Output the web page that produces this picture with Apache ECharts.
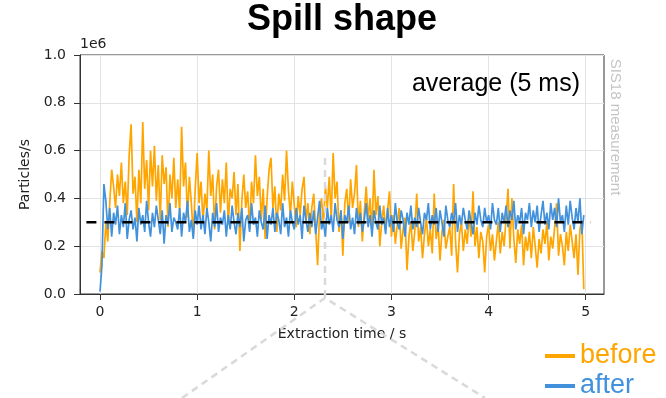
<!DOCTYPE html>
<html><head><meta charset="utf-8">
<script src="https://cdn.jsdelivr.net/npm/echarts@6/dist/echarts.min.js"></script>
<style>html,body{margin:0;padding:0;background:#fff}#c{width:666px;height:398px}</style>
</head><body><div id="c"></div>
<script>
// sampling step of the plotted spill (s); values in units of 1e6 particles/s
const sampleStep = 0.02;
const before = [
0.09,0.18,0.15,0.30,0.22,0.38,0.52,0.45,0.36,0.50,
0.41,0.55,0.38,0.47,0.33,0.58,0.71,0.42,0.49,0.30,
0.52,0.38,0.72,0.44,0.56,0.35,0.60,0.45,0.62,0.39,
0.54,0.31,0.58,0.46,0.53,0.28,0.50,0.40,0.57,0.36,
0.48,0.34,0.70,0.45,0.55,0.32,0.49,0.38,0.24,0.44,
0.59,0.38,0.47,0.30,0.42,0.35,0.60,0.41,0.50,0.27,
0.45,0.52,0.34,0.48,0.38,0.55,0.29,0.44,0.40,0.51,
0.33,0.46,0.18,0.39,0.50,0.36,0.43,0.27,0.47,0.38,
0.58,0.41,0.49,0.31,0.44,0.23,0.40,0.52,0.57,0.36,
0.45,0.26,0.42,0.35,0.50,0.39,0.60,0.43,0.33,0.47,
0.37,0.28,0.41,0.33,0.44,0.49,0.30,0.38,0.25,0.36,
0.42,0.27,0.12,0.34,0.40,0.29,0.45,0.36,0.49,0.31,
0.59,0.40,0.47,0.26,0.35,0.16,0.38,0.44,0.30,0.48,
0.36,0.42,0.54,0.28,0.39,0.22,0.34,0.45,0.31,0.40,
0.26,0.52,0.33,0.41,0.20,0.30,0.37,0.27,0.35,0.43,
0.24,0.33,0.21,0.29,0.36,0.19,0.27,0.32,0.10,0.24,
0.30,0.18,0.26,0.42,0.22,0.28,0.15,0.25,0.32,0.20,
0.27,0.17,0.42,0.23,0.29,0.14,0.26,0.31,0.19,0.24,
0.28,0.16,0.46,0.22,0.09,0.25,0.30,0.18,0.27,0.21,
0.33,0.24,0.43,0.20,0.28,0.15,0.26,0.22,0.09,0.24,
0.29,0.18,0.25,0.14,0.22,0.30,0.17,0.26,0.20,0.32,
0.44,0.19,0.40,0.23,0.13,0.27,0.21,0.29,0.12,0.24,
0.18,0.26,0.15,0.28,0.20,0.11,0.23,0.17,0.27,0.21,
0.30,0.14,0.24,0.19,0.28,0.38,0.16,0.25,0.20,0.12,
0.26,0.18,0.29,0.22,0.15,0.25,0.08,0.27,0.31,0.02
];
const after = [
0.01,0.12,0.46,0.39,0.27,0.36,0.24,0.34,0.29,0.37,
0.25,0.33,0.28,0.38,0.23,0.31,0.35,0.27,0.32,0.22,
0.36,0.29,0.33,0.26,0.39,0.30,0.24,0.34,0.28,0.37,
0.31,0.25,0.35,0.21,0.33,0.29,0.38,0.26,0.32,0.30,
0.27,0.36,0.24,0.34,0.30,0.39,0.26,0.31,0.23,0.35,
0.29,0.37,0.27,0.33,0.25,0.36,0.30,0.22,0.34,0.28,
0.38,0.26,0.32,0.29,0.35,0.24,0.33,0.27,0.37,0.30,
0.25,0.34,0.28,0.36,0.22,0.31,0.33,0.26,0.38,0.29,
0.32,0.24,0.35,0.30,0.27,0.37,0.23,0.33,0.29,0.36,
0.26,0.34,0.31,0.25,0.38,0.28,0.32,0.24,0.35,0.30,
0.27,0.36,0.29,0.33,0.23,0.37,0.31,0.26,0.34,0.28,
0.35,0.25,0.32,0.39,0.27,0.30,0.24,0.36,0.29,0.33,
0.26,0.38,0.31,0.28,0.35,0.23,0.33,0.30,0.37,0.27,
0.32,0.25,0.36,0.29,0.34,0.26,0.31,0.38,0.28,0.33,
0.24,0.35,0.30,0.27,0.37,0.29,0.32,0.25,0.36,0.28,
0.33,0.26,0.38,0.30,0.27,0.35,0.31,0.24,0.34,0.29,
0.37,0.27,0.32,0.28,0.36,0.30,0.25,0.34,0.31,0.38,
0.27,0.33,0.29,0.36,0.26,0.35,0.30,0.24,0.37,0.31,
0.28,0.34,0.30,0.38,0.26,0.33,0.29,0.36,0.31,0.27,
0.35,0.30,0.25,0.34,0.29,0.37,0.31,0.28,0.36,0.30,
0.33,0.27,0.38,0.31,0.29,0.36,0.26,0.34,0.30,0.37,
0.28,0.35,0.31,0.39,0.27,0.33,0.30,0.36,0.25,0.34,
0.31,0.38,0.28,0.35,0.30,0.37,0.26,0.33,0.39,0.29,
0.34,0.27,0.38,0.31,0.36,0.28,0.40,0.30,0.33,0.26,
0.37,0.29,0.39,0.32,0.27,0.36,0.30,0.40,0.25,0.33
];
const averageLevel = 0.3;
const averageSpan = [-0.14, 5.05];
const xTicks = [0, 1, 2, 3, 4, 5];
const seriesNames = ['before', 'after'];
const seriesColors = ['#FFA500', '#4191dc'];

const toPairs = arr => arr.map((v, i) => [i * sampleStep, v]);
const tickFont = 'DejaVu Sans';
const chart = echarts.init(document.getElementById('c'), null, {renderer: 'canvas'});
chart.setOption({
  animation: false,
  backgroundColor: '#fff',
  grid: {left: 80, right: 62, top: 55, bottom: 104, show: true, borderColor: '#333', borderWidth: 1, backgroundColor: 'transparent'},
  xAxis: {
    type: 'value', min: -0.206, max: 5.188,
    name: 'Extraction time / s', nameLocation: 'middle', nameGap: 33,
    nameTextStyle: {fontFamily: tickFont, fontSize: 14, color: '#222'},
    axisLine: {show: true, onZero: false, lineStyle: {color: '#333', width: 1}},
    axisTick: {show: true, length: 6, customValues: xTicks, lineStyle: {color: '#333'}},
    axisLabel: {customValues: xTicks, margin: 11, fontFamily: tickFont, fontSize: 14, color: '#222'},
    splitLine: {show: true, lineStyle: {color: '#e3e3e3', width: 1}}
  },
  yAxis: {
    type: 'value', min: 0, max: 1, interval: 0.2,
    name: 'Particles/s', nameLocation: 'middle', nameGap: 47, nameRotate: 90,
    nameTextStyle: {fontFamily: tickFont, fontSize: 14, color: '#222'},
    axisLine: {show: true, onZero: false, lineStyle: {color: '#333', width: 1}},
    axisTick: {show: true, length: 6, lineStyle: {color: '#333'}},
    axisLabel: {margin: 14, fontFamily: tickFont, fontSize: 14, color: '#222', formatter: v => v.toFixed(1)},
    splitLine: {show: true, lineStyle: {color: '#e3e3e3', width: 1}}
  },
  legend: {
    data: [
      {name: seriesNames[0], textStyle: {color: seriesColors[0]}},
      {name: seriesNames[1], textStyle: {color: seriesColors[1]}}
    ],
    orient: 'vertical', left: 545, top: 341, width: 120, height: 70, padding: 0, itemGap: 0,
    icon: 'rect', itemWidth: 30, itemHeight: 4,
    textStyle: {fontFamily: 'Liberation Sans', fontSize: 27, lineHeight: 30}
  },
  series: [
    {name: seriesNames[0], type: 'line', data: toPairs(before), showSymbol: false, symbol: 'none', z: 2,
     lineStyle: {color: seriesColors[0], width: 1.7}, itemStyle: {color: seriesColors[0]}},
    {name: seriesNames[1], type: 'line', data: toPairs(after), showSymbol: false, symbol: 'none', z: 4,
     lineStyle: {color: seriesColors[1], width: 1.7}, itemStyle: {color: seriesColors[1]}},
    {name: 'average', type: 'line', data: [[averageSpan[0], averageLevel], [averageSpan[1], averageLevel]],
     showSymbol: false, symbol: 'none', z: 5, silent: true,
     lineStyle: {color: '#000', width: 2.5, type: [10, 8]}}
  ],
  graphic: [
    {type: 'text', x: 342, y: 20, z: 10, style: {text: 'Spill shape', font: 'bold 36px "Liberation Sans", Arial, sans-serif', fill: '#000', align: 'center', verticalAlign: 'middle'}},
    {type: 'text', x: 80, y: 44, z: 10, style: {text: '1e6', font: '14px "DejaVu Sans"', fill: '#222', align: 'left', verticalAlign: 'middle'}},
    {type: 'text', x: 580, y: 84, z: 10, style: {text: 'average (5 ms)', font: '25px "Liberation Sans", Arial, sans-serif', fill: '#000', align: 'right', verticalAlign: 'middle'}},
    {type: 'text', x: 615, y: 127, rotation: -Math.PI / 2, z: 10, style: {text: 'SIS18 measurement', font: '15px "Liberation Sans", Arial, sans-serif', fill: '#c4c4c4', align: 'center', verticalAlign: 'middle'}},
    {type: 'polyline', z: 3, silent: true, shape: {points: [[325, 158], [325, 298]]}, style: {stroke: '#d9d9d9', lineWidth: 2.5, lineDash: [7, 5], fill: null}},
    {type: 'polyline', z: 3, silent: true, shape: {points: [[182, 398], [325, 298], [485, 398]]}, style: {stroke: '#d9d9d9', lineWidth: 2.5, lineDash: [7, 5], fill: null}}
  ]
});
</script>
</body></html>
